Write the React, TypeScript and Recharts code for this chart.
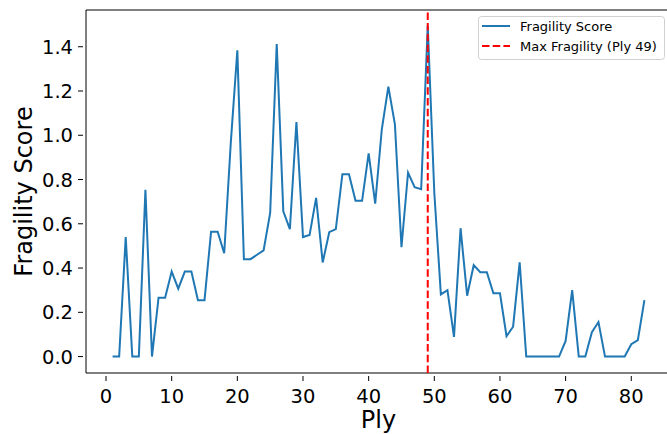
import React from "react";
import {
  LineChart,
  Line,
  XAxis,
  YAxis,
  ReferenceLine,
  ReferenceArea,
  Legend,
  Label,
} from "recharts";

const plies = [
  1, 2, 3, 4, 5, 6, 7, 8, 9, 10, 11, 12, 13, 14, 15, 16, 17, 18, 19, 20,
  21, 22, 23, 24, 25, 26, 27, 28, 29, 30, 31, 32, 33, 34, 35, 36, 37, 38, 39, 40,
  41, 42, 43, 44, 45, 46, 47, 48, 49, 50, 51, 52, 53, 54, 55, 56, 57, 58, 59, 60,
  61, 62, 63, 64, 65, 66, 67, 68, 69, 70, 71, 72, 73, 74, 75, 76, 77, 78, 79, 80,
  81, 82,
];

const fragilityScores = [
  0, 0, 0.54, 0, 0, 0.754, 0, 0.266, 0.266, 0.384,
  0.307, 0.384, 0.384, 0.255, 0.255, 0.564, 0.564, 0.467, 0.965, 1.384,
  0.44, 0.44, 0.46, 0.48, 0.649, 1.412, 0.656, 0.576, 1.06, 0.54,
  0.549, 0.717, 0.425, 0.562, 0.576, 0.824, 0.824, 0.704, 0.704, 0.918,
  0.691, 1.026, 1.22, 1.049, 0.494, 0.831, 0.765, 0.756, 1.495, 0.74,
  0.281, 0.3, 0.089, 0.58, 0.275, 0.413, 0.381, 0.381, 0.286, 0.286,
  0.092, 0.135, 0.426, 0, 0, 0, 0, 0, 0, 0.071,
  0.3, 0, 0, 0.11, 0.156, 0, 0, 0, 0, 0.056,
  0.074, 0.255,
];

const maxPly = 49;
const seriesName = "Fragility Score";
const maxLabel = `Max Fragility (Ply ${maxPly})`;
const xTicks = [0, 10, 20, 30, 40, 50, 60, 70, 80];
const yTicks = [0.0, 0.2, 0.4, 0.6, 0.8, 1.0, 1.2, 1.4];
const xDomain = [-3.05, 86.05];
const yDomain = [-0.0742, 1.566];

const data = plies.map((p, i) => ({ ply: p, score: fragilityScores[i] }));

const FONT = "DejaVu Sans";
const BLUE = "#1f77b4";

const XTick = (props: any) => {
  const { x, y, payload } = props;
  return (
    <g>
      <line x1={x} x2={x} y1={y - 5} y2={y} stroke="#000" strokeWidth={1} />
      <text
        x={x}
        y={y + 22}
        textAnchor="middle"
        fontFamily={FONT}
        fontSize={19.5}
        fill="#000"
      >
        {payload.value}
      </text>
    </g>
  );
};

const YTick = (props: any) => {
  const { x, y, payload } = props;
  return (
    <g>
      <line x1={x} x2={x + 5} y1={y} y2={y} stroke="#000" strokeWidth={1} />
      <text
        x={x - 5}
        y={y + 7}
        textAnchor="end"
        fontFamily={FONT}
        fontSize={19.5}
        fill="#000"
      >
        {Number(payload.value).toFixed(1)}
      </text>
    </g>
  );
};

const LegendBox = () => (
  <svg width={188} height={45} style={{ display: "block" }}>
    <rect
      x={0.5}
      y={0.5}
      width={186}
      height={43}
      rx={3}
      ry={3}
      fill="rgba(255,255,255,0.8)"
      stroke="#d0d0d0"
      strokeWidth={1}
    />
    <line x1={4} x2={32} y1={10} y2={10} stroke={BLUE} strokeWidth={2} />
    <text x={42} y={15} fontFamily={FONT} fontSize={13} fill="#000">
      {seriesName}
    </text>
    <line
      x1={4}
      x2={32}
      y1={30}
      y2={30}
      stroke="#ff0000"
      strokeWidth={2}
      strokeDasharray="7.5 3.2"
    />
    <text x={42} y={35} fontFamily={FONT} fontSize={13} fill="#000">
      {maxLabel}
    </text>
  </svg>
);

export default function App() {
  return (
    <div style={{ position: "absolute", left: 0, top: 0, width: 667, height: 434, overflow: "hidden", background: "#fff" }}>
      <LineChart
        width={671}
        height={434}
        data={data}
        margin={{ top: 10, right: 0, bottom: 0, left: 0 }}
      >
        <XAxis
          dataKey="ply"
          type="number"
          domain={xDomain}
          ticks={xTicks}
          allowDataOverflow
          axisLine={false}
          tickLine={false}
          tick={<XTick />}
          height={61}
          interval={0}
        >
          <Label
            value="Ply"
            position="insideBottom"
            offset={6}
            style={{ fontFamily: FONT, fontSize: 24, fill: "#000" }}
          />
        </XAxis>
        <YAxis
          type="number"
          domain={yDomain}
          ticks={yTicks}
          allowDataOverflow
          axisLine={false}
          tickLine={false}
          tick={<YTick />}
          width={86}
          interval={0}
        >
          <Label
            value="Fragility Score"
            angle={-90}
            position="insideLeft"
            offset={0}
            dx={23}
            style={{ fontFamily: FONT, fontSize: 24, fill: "#000", textAnchor: "middle" }}
          />
        </YAxis>
        <ReferenceArea
          x1={xDomain[0]}
          x2={xDomain[1]}
          y1={yDomain[0]}
          y2={yDomain[1]}
          ifOverflow="visible"
          fill="none"
          fillOpacity={0}
          stroke="#000"
          strokeWidth={1}
        />
        <Line
          type="linear"
          dataKey="score"
          name={seriesName}
          stroke={BLUE}
          strokeWidth={2}
          dot={false}
          activeDot={false}
          isAnimationActive={false}
        />
        <ReferenceLine
          x={maxPly}
          stroke="#ff0000"
          strokeWidth={2}
          strokeDasharray="7.5 3.2"
        />
        <Legend
          layout="horizontal"
          verticalAlign="middle"
          align="center"
          content={<LegendBox />}
          wrapperStyle={{ left: 478, top: 16, width: 188, height: 45 }}
        />
      </LineChart>
    </div>
  );
}
